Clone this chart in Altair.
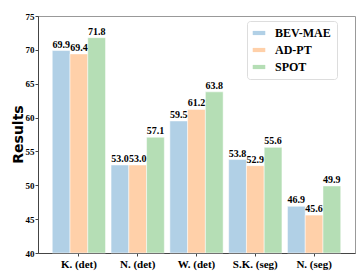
import altair as alt
import pandas as pd

categories = ["K. (det)", "N. (det)", "W. (det)", "S.K. (seg)", "N. (seg)"]
series = ["BEV-MAE", "AD-PT", "SPOT"]
bev_mae = [69.9, 53.0, 59.5, 53.8, 46.9]
ad_pt = [69.4, 53.0, 61.2, 52.9, 45.6]
spot = [71.8, 57.1, 63.8, 55.6, 49.9]
colors = ["#b1d0e6", "#ffd0a9", "#b5deb5"]
y_ticks = [40, 45, 50, 55, 60, 65, 70, 75]

rows = []
for name, vals in zip(series, [bev_mae, ad_pt, spot]):
    for c, v in zip(categories, vals):
        rows.append({"cat": c, "series": name, "value": v, "label": f"{v:.1f}"})
df = pd.DataFrame(rows)

serif = "Liberation Serif"

x_axis = alt.Axis(labelAngle=0, labelFont=serif, labelFontWeight="bold",
                  labelFontSize=11, labelColor="#000", tickSize=3,
                  tickColor="#444", domainColor="#444", labelPadding=2)
y_axis = alt.Axis(values=y_ticks, labelFont=serif, labelFontWeight="bold",
                  labelFontSize=9, labelColor="#000", tickSize=3,
                  tickColor="#444", domainColor="#444", labelPadding=1,
                  labelOverlap=False, labelBound=False,
                  grid=False, titleFont="DejaVu Sans", titleFontSize=14,
                  titleFontWeight="bold", titleColor="#000",
                  titleAngle=-90, titleX=-16, titleY=118,
                  titleAlign="center", titleBaseline="alphabetic")
x_scale = alt.Scale(paddingInner=0.094, paddingOuter=0.2425)
y_scale = alt.Scale(domain=[40, 75], zero=False, nice=False)
xoff = alt.XOffset("series:N", sort=series, scale=alt.Scale(paddingInner=0, paddingOuter=0))

bars = alt.Chart(df).mark_bar(stroke="white", strokeWidth=0.5).encode(
    x=alt.X("cat:N", sort=categories, title=None, scale=x_scale, axis=x_axis),
    xOffset=xoff,
    y=alt.Y("value:Q", scale=y_scale, title="Results", axis=y_axis),
    y2=alt.datum(40),
    color=alt.Color("series:N", sort=series,
                    scale=alt.Scale(domain=series, range=colors),
                    legend=alt.Legend(title=None, orient="none", legendX=209, legendY=5,
                                      padding=6, strokeColor="#dddddd", fillColor="white",
                                      cornerRadius=3,
                                      symbolType="M-1.5,-0.5L1.5,-0.5L1.5,0.5L-1.5,0.5Z",
                                      symbolSize=70, symbolStrokeWidth=0,
                                      labelFont=serif, labelFontWeight="bold",
                                      labelFontSize=12, labelColor="#000",
                                      labelOffset=10, rowPadding=5)),
)

labels = alt.Chart(df).mark_text(font=serif, fontWeight="bold", fontSize=10,
                                 baseline="bottom", dy=-1, color="#000").encode(
    x=alt.X("cat:N", sort=categories, title=None, scale=x_scale, axis=x_axis),
    xOffset=xoff,
    y=alt.Y("value:Q", scale=y_scale, title="Results", axis=y_axis),
    text="label:N",
)

chart = (bars + labels).properties(
    width=317, height=237,
    padding={"left": 30, "top": 8, "right": 1, "bottom": 20},
    autosize=alt.AutoSizeParams(type="none"),
).configure_view(stroke="#999999", strokeWidth=1)

chart.save("out.html", embed_options={"renderer": "svg", "actions": False})
